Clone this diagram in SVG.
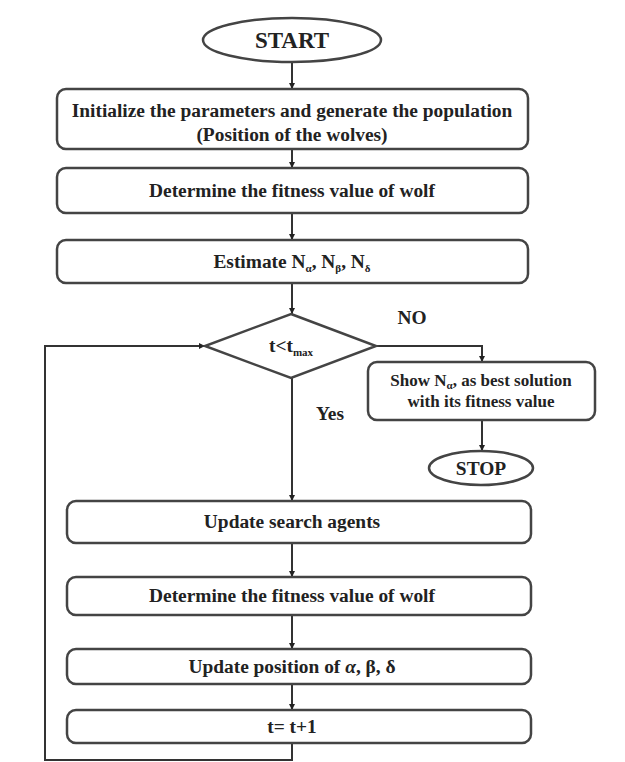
<svg xmlns="http://www.w3.org/2000/svg" width="625" height="762" viewBox="0 0 625 762">
<defs>
<marker id="ah" viewBox="0 0 10 10" refX="10" refY="5" markerWidth="6" markerHeight="6" markerUnits="userSpaceOnUse" orient="auto">
<path d="M0,0 L10,5 L0,10 z" fill="#222"/>
</marker>
<style>
.box{fill:#fff;stroke:#444;stroke-width:2.5}
.t{font-family:"Liberation Serif","Times New Roman",serif;font-weight:bold;font-size:19.4px;fill:#222;text-anchor:middle}
.s{font-size:17px}
.sub{font-size:11px}
.c{fill:none;stroke:#333;stroke-width:2}
</style>
</defs>
<rect width="625" height="762" fill="#fff"/>
<g id="connectors">
<path class="c" d="M292,62 V89" marker-end="url(#ah)"/>
<path class="c" d="M292,149 V168" marker-end="url(#ah)"/>
<path class="c" d="M292,213 V240" marker-end="url(#ah)"/>
<path class="c" d="M292,283 V314" marker-end="url(#ah)"/>
<path class="c" d="M376,346 H482 V362" marker-end="url(#ah)"/>
<path class="c" d="M482,420 V451" marker-end="url(#ah)"/>
<path class="c" d="M292,378 V501" marker-end="url(#ah)"/>
<path class="c" d="M292,543 V577" marker-end="url(#ah)"/>
<path class="c" d="M292,615 V649" marker-end="url(#ah)"/>
<path class="c" d="M292,684 V710" marker-end="url(#ah)"/>
<path class="c" d="M292,743 V760 H45 V346 H205" marker-end="url(#ah)"/>
</g>
<g id="start">
<ellipse class="box" cx="292" cy="40" rx="89" ry="22"/>
<text class="t" x="292" y="48" style="font-size:23px">START</text>
</g>
<g id="init">
<rect class="box" x="57" y="89" width="471" height="60" rx="9"/>
<text class="t" x="292" y="117">Initialize the parameters and generate the population</text>
<text class="t" x="292" y="141">(Position of the wolves)</text>
</g>
<g id="fitness1">
<rect class="box" x="57" y="168" width="471" height="45" rx="9"/>
<text class="t" x="292" y="197">Determine the fitness value of wolf</text>
</g>
<g id="estimate">
<rect class="box" x="57" y="240" width="471" height="43" rx="9"/>
<text class="t" x="292" y="268">Estimate N<tspan class="sub" dy="4">α</tspan><tspan dy="-4">, N</tspan><tspan class="sub" dy="4">β</tspan><tspan dy="-4">, N</tspan><tspan class="sub" dy="4">δ</tspan></text>
</g>
<g id="decision">
<polygon class="box" points="291,314 376,346 291,378 205,346"/>
<text class="t" x="291" y="352">t&lt;t<tspan class="sub" dy="4">max</tspan></text>
</g>
<g id="labels">
<text class="t" x="412" y="324">NO</text>
<text class="t" x="330" y="420">Yes</text>
</g>
<g id="show">
<rect class="box" x="368" y="362" width="227" height="58" rx="9"/>
<text class="t s" x="481" y="386">Show N<tspan class="sub" dy="3">α</tspan><tspan dy="-3">, as best solution</tspan></text>
<text class="t s" x="481" y="407">with its fitness value</text>
</g>
<g id="stop">
<ellipse class="box" cx="481" cy="468" rx="52" ry="17"/>
<text class="t" x="481" y="475">STOP</text>
</g>
<g id="update">
<rect class="box" x="67" y="501" width="464" height="42" rx="9"/>
<text class="t" x="292" y="528">Update search agents</text>
</g>
<g id="fitness2">
<rect class="box" x="67" y="577" width="464" height="38" rx="9"/>
<text class="t" x="292" y="602">Determine the fitness value of wolf</text>
</g>
<g id="position">
<rect class="box" x="67" y="649" width="464" height="35" rx="9"/>
<text class="t" x="292" y="673">Update position of <tspan font-style="italic">α</tspan>, β, δ</text>
</g>
<g id="increment">
<rect class="box" x="67" y="710" width="464" height="33" rx="9"/>
<text class="t" x="292" y="733">t= t+1</text>
</g>
</svg>
